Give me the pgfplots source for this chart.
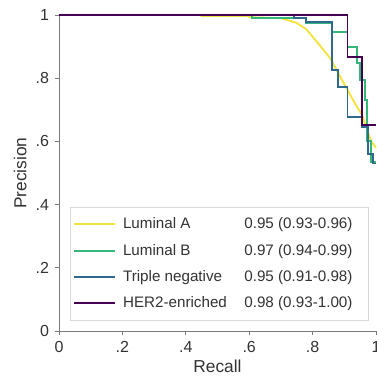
\documentclass[border=0pt]{standalone}
\usepackage{fontspec}
\setmainfont{Liberation Sans}
\usepackage{pgfplots}
\pgfplotsset{compat=1.18}
\definecolor{cA}{HTML}{F2E43C}
\definecolor{cB}{HTML}{35B779}
\definecolor{cT}{HTML}{31688E}
\definecolor{cH}{HTML}{440154}
\definecolor{axc}{HTML}{7A7A7A}
\definecolor{txt}{HTML}{333333}
\newcommand{\entry}[2]{\hspace*{3pt}\makebox[91pt][l]{#1}#2\hspace*{8pt}}
\begin{document}
\begin{tikzpicture}
\begin{axis}[
  scale only axis, width=237.75pt, height=237pt,
  xmin=0, xmax=1, ymin=0, ymax=1,
  axis x line=bottom, axis y line=left,
  axis line style={-, draw=axc, line width=0.6pt},
  xtick={0,0.2,0.4,0.6,0.8,1}, xticklabels={0,.2,.4,.6,.8,1},
  ytick={0,0.2,0.4,0.6,0.8,1}, yticklabels={0,.2,.4,.6,.8,1},
  tick align=outside, major tick length=3pt,
  tick style={draw=axc, line width=0.6pt},
  ticklabel style={font=\fontsize{12}{14}\selectfont, text=txt},
  xticklabel style={yshift=-1pt},
  yticklabel style={xshift=-1pt},
  xlabel={Recall}, ylabel={Precision},
  label style={font=\fontsize{13}{15}\selectfont, text=txt},
  xlabel style={yshift=1.5pt},
  ylabel style={yshift=0pt},
  clip=false,
  legend style={at={(rel axis cs:0.035,0.032)}, anchor=south west,
    draw=black!15, font=\fontsize{11.4}{13}\selectfont, text=txt,
    row sep=6pt, inner xsep=2pt, inner ysep=6pt},
  legend cell align=left,
  legend image code/.code={\draw[line width=1.5pt,#1] (0pt,0pt) -- (31pt,0pt);},
]
\addplot[draw=cA, line width=1.4pt, sharp plot] coordinates {(0,1)(0.45,1)(0.45,0.997)(0.6,0.997)(0.6,0.993)(0.7,0.99)(0.75,0.975)(0.78,0.955)(0.817,0.911)(0.855,0.864)(0.893,0.794)(0.94,0.709)(0.956,0.684)(0.972,0.636)(0.985,0.60)(1.0,0.58)};
\addlegendentry{\entry{Luminal A}{0.95 (0.93-0.96)}}
\addplot[draw=cB, line width=1.4pt, sharp plot] coordinates {(0,1)(0.61,1)(0.61,0.99)(0.78,0.99)(0.78,0.975)(0.86,0.975)(0.86,0.946)(0.91,0.946)(0.91,0.9)(0.94,0.9)(0.94,0.848)(0.95,0.848)(0.95,0.794)(0.965,0.794)(0.965,0.73)(0.972,0.73)(0.972,0.6)(0.985,0.6)(0.985,0.535)(1,0.535)};
\addlegendentry{\entry{Luminal B}{0.97 (0.94-0.99)}}
\addplot[draw=cT, line width=1.4pt, sharp plot] coordinates {(0,1)(0.74,1)(0.74,0.99)(0.78,0.99)(0.78,0.978)(0.86,0.978)(0.86,0.826)(0.88,0.826)(0.88,0.772)(0.91,0.772)(0.91,0.677)(0.956,0.677)(0.956,0.646)(0.975,0.646)(0.975,0.56)(0.99,0.56)(0.99,0.53)(1,0.53)};
\addlegendentry{\entry{Triple negative}{0.95 (0.91-0.98)}}
\addplot[draw=cH, line width=1.4pt, sharp plot] coordinates {(0,1)(0.91,1)(0.91,0.867)(0.956,0.867)(0.956,0.652)(1,0.652)};
\addlegendentry{\entry{HER2-enriched}{0.98 (0.93-1.00)}}
\coordinate (ll) at (rel axis cs:0,0);
\coordinate (ur) at (rel axis cs:1,1);
\end{axis}
\pgfresetboundingbox
\path[use as bounding box] ([xshift=-44.25pt,yshift=-36pt]ll) rectangle ([xshift=0.75pt,yshift=11.25pt]ur);
\end{tikzpicture}
\end{document}
